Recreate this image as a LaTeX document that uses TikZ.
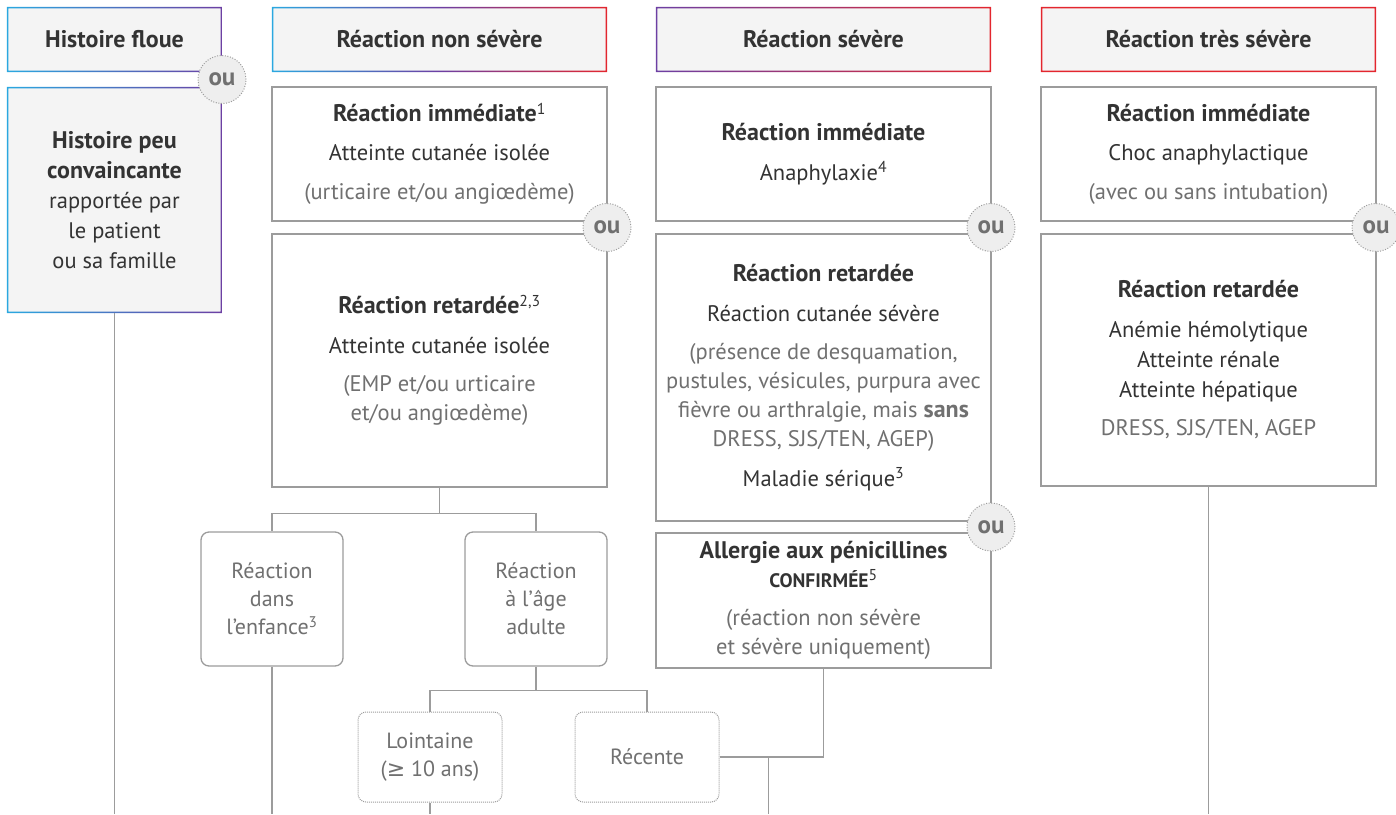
\documentclass[tikz,border=0pt]{standalone}
\usepackage{fontspec}
\setmainfont{PT Sans}
\newfontfamily\symfont{DejaVu Sans}
\usetikzlibrary{positioning}

\definecolor{cyanb}{HTML}{2AA8E0}
\definecolor{purpb}{HTML}{6C3FA3}
\definecolor{redb}{HTML}{E3262E}
\definecolor{boxgray}{HTML}{9C9C9C}
\definecolor{hdrfill}{HTML}{F4F4F4}
\definecolor{oufill}{HTML}{EEEEEE}
\definecolor{txtdark}{HTML}{333333}
\definecolor{txtgray}{HTML}{707070}

% bold runs are set a little larger to match the original widths
\newcommand\bb[1]{{\fontsize{24}{29}\selectfont\bfseries #1}}

\begin{document}
\begin{tikzpicture}[x=1pt,y=-1pt,
  every node/.style={inner sep=0pt, align=center, text=txtdark, font=\fontsize{22.5}{29}\selectfont},
  hdr/.style={fill=hdrfill, minimum height=65pt, font=\fontsize{24}{29}\selectfont\bfseries},
  box/.style={draw=boxgray, line width=1.3pt, fill=white},
  kid/.style={box, rounded corners=8pt, minimum width=142pt, minimum height=134pt, text=txtgray, font=\fontsize{22}{28}\selectfont},
  far/.style={box, rounded corners=8pt, dash pattern=on 1pt off 1pt, line width=1pt, minimum width=144pt, minimum height=90pt, text=txtgray, font=\fontsize{22}{28}\selectfont},
  ou/.style={circle, draw=boxgray, fill=oufill, dash pattern=on 1pt off 1.6pt, line width=1pt, minimum size=48pt, text=txtgray, font=\fontsize{25}{29}\selectfont\bfseries},
  conn/.style={draw=boxgray, line width=1.3pt}]
  \useasboundingbox (0,0) rectangle (1396,814);

  % headers
  \node[hdr, minimum width=215pt] (hfloue) at (114.5,39.5) {Histoire floue};
  \node[hdr, minimum width=215pt, minimum height=226pt, font=\fontsize{22.5}{30}\selectfont] (hpeu) at (114.5,200)
    {\bb{Histoire peu}\\\bb{convaincante}\\rapportée par\\le patient\\ou sa famille};
  \node[hdr, minimum width=335pt] (hnon) at (439.5,39.5) {Réaction non sévère};
  \node[hdr, minimum width=335pt] (hsev) at (823.5,39.5) {Réaction sévère};
  \node[hdr, minimum width=335pt] (htres) at (1208.5,39.5) {Réaction très sévère};

  \foreach \n/\l/\m/\r in {hfloue/cyanb/cyanb!50!purpb/purpb, hpeu/cyanb/cyanb!50!purpb/purpb,
      hnon/cyanb/purpb/redb, hsev/purpb/purpb!50!redb/redb, htres/redb/redb/redb}
    \shade[left color=\l, right color=\r, middle color=\m, even odd rule]
      (\n.north west) rectangle (\n.south east)
      ([xshift=1.5pt,yshift=-1.5pt]\n.north west) rectangle ([xshift=-1.5pt,yshift=1.5pt]\n.south east);

  % non severe
  \node[box, minimum width=335pt, minimum height=134pt, font=\fontsize{22.5}{39}\selectfont] (nimm) at (439.5,154)
    {\bb{Réaction immédiate}\textsuperscript{1}\\Atteinte cutanée isolée\\\textcolor{txtgray}{(urticaire et/ou angiœdème)}};
  \node[box, minimum width=335pt, minimum height=253pt] (nret) at (439.5,360.5)
    {\bb{Réaction retardée}\textsuperscript{2,3}\\[11pt]Atteinte cutanée isolée\\[9pt]\textcolor{txtgray}{(EMP et/ou urticaire}\\\textcolor{txtgray}{et/ou angiœdème)}};

  % severe
  \node[box, minimum width=335pt, minimum height=134pt, font=\fontsize{22.5}{40}\selectfont] (simm) at (823.5,154)
    {\bb{Réaction immédiate}\\Anaphylaxie\textsuperscript{4}};
  \node[box, minimum width=335pt, minimum height=287pt] (sret) at (823.5,377.5)
    {\bb{Réaction retardée}\\[11pt]Réaction cutanée sévère\\[9pt]\textcolor{txtgray}{(présence de desquamation,}\\
     \textcolor{txtgray}{pustules, vésicules, purpura avec}\\\textcolor{txtgray}{fièvre ou arthralgie, mais \bb{sans}}\\
     \textcolor{txtgray}{DRESS, SJS/TEN, AGEP)}\\[11pt]Maladie sérique\textsuperscript{3}};
  \node[box, minimum width=335pt, minimum height=135pt] (sconf) at (823.5,600.5)
    {\bb{Allergie aux pénicillines}\\{\fontsize{19.5}{29}\selectfont\bfseries CONFIRMÉE}\textsuperscript{5}\\[9pt]
     \textcolor{txtgray}{(réaction non sévère}\\\textcolor{txtgray}{et sévère uniquement)}};

  % very severe
  \node[box, minimum width=335pt, minimum height=134pt, font=\fontsize{22.5}{39}\selectfont] (timm) at (1208.5,154)
    {\bb{Réaction immédiate}\\Choc anaphylactique\\\textcolor{txtgray}{(avec ou sans intubation)}};
  \node[box, minimum width=335pt, minimum height=252pt] (tret) at (1208.5,360)
    {\bb{Réaction retardée}\\[11pt]Anémie hémolytique\\[1pt]Atteinte rénale\\[1pt]Atteinte hépatique\\[9pt]\textcolor{txtgray}{DRESS, SJS/TEN, AGEP}};

  % age of reaction
  \node[kid] (enf) at (272,599) {Réaction\\dans\\l’enfance\textsuperscript{3}};
  \node[kid] (adu) at (536,599) {Réaction\\à l’âge\\adulte};
  \node[far] (loin) at (430,757) {Lointaine\\({\symfont ≥} 10 ans)};
  \node[far] (rec) at (647,757) {Récente};

  % connectors
  \coordinate (bot) at (0,814);
  \draw[conn] (hpeu.south) -- (hpeu.south |- bot);
  \draw[conn] (nret.south) -- ++(0,26) coordinate (j1) -| (enf.north);
  \draw[conn] (j1) -| (adu.north);
  \draw[conn] (enf.south) -- (enf.south |- bot);
  \draw[conn] (adu.south) -- ++(0,24) coordinate (j2) -| (loin.north);
  \draw[conn] (j2) -| (rec.north);
  \draw[conn] (loin.south) -- (loin.south |- bot);
  \draw[conn] (sconf.south) |- (rec.east);
  \path (rec.east) ++(49,0) coordinate (j3);
  \draw[conn] (j3) -- (j3 |- bot);
  \draw[conn] (tret.south) -- (tret.south |- bot);

  % or
  \node[ou] (ou1) at (222,79.5) {ou};
  \node[ou] (ou2) at (607,227.5) {ou};
  \node[ou] (ou3) at (991,227.5) {ou};
  \node[ou] (ou4) at (991,527) {ou};
  \node[ou] (ou5) at (1376,227.5) {ou};
\end{tikzpicture}
\end{document}
